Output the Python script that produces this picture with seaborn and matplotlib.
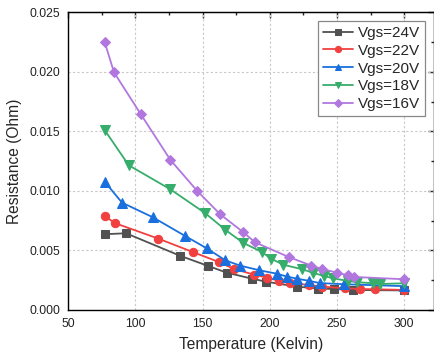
import matplotlib
matplotlib.use("Agg")
import matplotlib.pyplot as plt
import seaborn as sns
import pandas as pd
from matplotlib.ticker import MultipleLocator, FormatStrFormatter

# Temperature (K) and channel resistance (Ohm) for each gate voltage
t_24 = [77, 93, 133, 154, 168, 187, 197, 220, 236, 248, 262, 300]
r_24 = [0.00636, 0.00644, 0.00456, 0.00370, 0.00313, 0.00262, 0.00238,
        0.00196, 0.00180, 0.00176, 0.00168, 0.00164]

t_22 = [77, 85, 117, 143, 162, 173, 188, 198, 207, 215, 229, 239, 256, 267, 278, 300]
r_22 = [0.00789, 0.00728, 0.00599, 0.00485, 0.00403, 0.00346, 0.00297, 0.00271,
        0.00244, 0.00226, 0.00210, 0.00196, 0.00182, 0.00176, 0.00174, 0.00168]

t_20 = [77, 90, 113, 137, 153, 167, 178, 192, 205, 213, 220, 229, 237, 255, 300]
r_20 = [0.01078, 0.00901, 0.00778, 0.00621, 0.00518, 0.00416, 0.00372, 0.00334,
        0.00305, 0.00280, 0.00263, 0.00245, 0.00226, 0.00216, 0.00200]

t_18 = [77, 95, 126, 152, 167, 180, 194, 201, 210, 224, 232, 240, 247, 258, 265, 277, 282, 300]
r_18 = [0.01512, 0.01215, 0.01013, 0.00812, 0.00672, 0.00565, 0.00487, 0.00431,
        0.00380, 0.00342, 0.00313, 0.00286, 0.00266, 0.00244, 0.00233, 0.00224,
        0.00218, 0.00224]

t_16 = [77, 84, 104, 126, 146, 163, 180, 189, 214, 231, 239, 250, 258, 263, 300]
r_16 = [0.02253, 0.01996, 0.01643, 0.01260, 0.00999, 0.00804, 0.00655, 0.00568,
        0.00445, 0.00372, 0.00344, 0.00313, 0.00291, 0.00277, 0.00258]

series = [
    ("Vgs=24V", t_24, r_24, "#515151", "s", 5.5),
    ("Vgs=22V", t_22, r_22, "#F14040", "o", 6.0),
    ("Vgs=20V", t_20, r_20, "#1A6FDF", "^", 6.5),
    ("Vgs=18V", t_18, r_18, "#37AD6B", "v", 6.5),
    ("Vgs=16V", t_16, r_16, "#B177DE", "D", 5.5),
]

sns.set_style("white")
plt.rcParams["font.family"] = ["Liberation Sans", "DejaVu Sans"]

fig = plt.figure(figsize=(4.35, 3.60), dpi=100)
ax = fig.add_axes([0.157, 0.139, 0.840, 0.827])

for label, t, r, color, marker, ms in series:
    df = pd.DataFrame({"Temperature": t, "Resistance": r})
    sns.lineplot(data=df, x="Temperature", y="Resistance", ax=ax, color=color,
                 marker=marker, markersize=ms, markeredgecolor=color,
                 linewidth=1.3, label=label, sort=False, estimator=None)

ax.set_xlim(50, 322)
ax.set_ylim(0, 0.025)
ax.xaxis.set_major_locator(MultipleLocator(50))
ax.xaxis.set_minor_locator(MultipleLocator(25))
ax.yaxis.set_major_locator(MultipleLocator(0.005))
ax.yaxis.set_minor_locator(MultipleLocator(0.0025))
ax.yaxis.set_major_formatter(FormatStrFormatter("%.3f"))

ax.grid(True, which="major", linestyle=(0, (2, 2)), color="#c8c8c8", linewidth=0.8)
ax.set_axisbelow(True)

for side in ax.spines.values():
    side.set_color("black")
    side.set_linewidth(1.0)

ax.tick_params(axis="both", which="major", direction="out", length=4, width=1,
               labelsize=8.8, color="black", labelcolor="#222222", pad=2)
ax.tick_params(axis="both", which="minor", direction="out", length=2.5, width=1,
               color="black")

# mirrored inward ticks on top and right
top = ax.secondary_xaxis("top")
top.xaxis.set_major_locator(MultipleLocator(50))
top.xaxis.set_minor_locator(MultipleLocator(25))
top.tick_params(which="major", direction="in", length=4, width=1, labeltop=False)
top.tick_params(which="minor", direction="in", length=2.5, width=1)
right = ax.secondary_yaxis("right")
right.yaxis.set_major_locator(MultipleLocator(0.005))
right.yaxis.set_minor_locator(MultipleLocator(0.0025))
right.tick_params(which="major", direction="in", length=4, width=1, labelright=False)
right.tick_params(which="minor", direction="in", length=2.5, width=1)

ax.set_xlabel("Temperature (Kelvin)", fontsize=11.2, labelpad=5)
ax.set_ylabel("Resistance (Ohm)", fontsize=11.2, labelpad=5)

leg = ax.legend(loc="upper right", fontsize=11, frameon=True, fancybox=False,
                edgecolor="#888888", framealpha=1, handlelength=2.0,
                handletextpad=0.3, borderpad=0.3, labelspacing=0.25,
                borderaxespad=0.6, markerscale=0.75)
leg.get_frame().set_linewidth(0.9)

fig.savefig("out.png", dpi=100)
